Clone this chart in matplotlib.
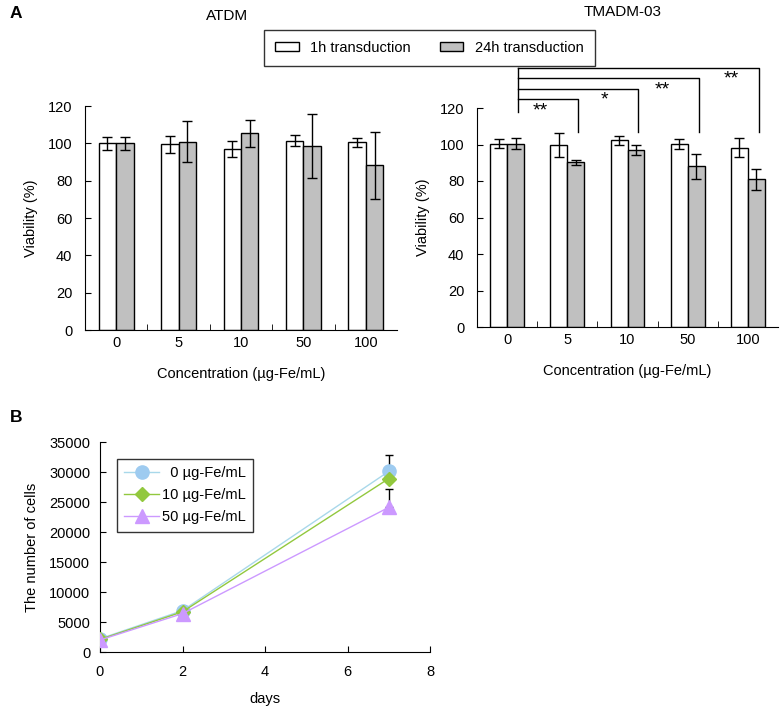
import matplotlib
matplotlib.use("Agg")
import matplotlib.pyplot as plt
import numpy as np
from matplotlib.patches import Patch

plt.rcParams['font.family'] = ['Liberation Sans', 'DejaVu Sans']

# ---- Data ----
concentrations = ["0", "5", "10", "50", "100"]
atdm_1h = [100, 99.5, 97, 101.5, 100.5]
atdm_1h_err = [3.5, 4.5, 4.5, 3, 2.3]
atdm_24h = [100, 100.8, 105.3, 98.5, 88.3]
atdm_24h_err = [3.5, 11, 7, 17, 18]

tmadm_1h = [100.5, 99.8, 102.2, 100.5, 98.3]
tmadm_1h_err = [2.5, 6.7, 2.3, 2.7, 5.3]
tmadm_24h = [100.5, 90.2, 97, 88, 81]
tmadm_24h_err = [3.2, 1.4, 2.5, 7, 5.7]

sig_targets = [1, 2, 3, 4]
sig_labels = ["**", "*", "**", "**"]

days = [0, 2, 7]
cells_0 = [2200, 6900, 30100]
cells_10 = [2100, 6700, 28900]
cells_50 = [2000, 6400, 24100]
err_0 = [0, 0, 2800]
err_50 = [0, 0, 3000]

# ---- Layout constants ----
W, H = 782, 710
fig = plt.figure(figsize=(W / 100, H / 100), dpi=100)

def ax_rect(x0, x1, ytop, ybot):
    return [x0 / W, (H - ybot) / H, (x1 - x0) / W, (ybot - ytop) / H]

bw = 0.28
fs = 10.5
star_x = [0.55, 1.62, 2.57, 3.72]
bracket_levels = [124.7, 130.3, 136.3, 141.8]

def bar_panel(ax, v1, e1, v2, e2):
    x = np.arange(len(concentrations))
    ax.bar(x - bw / 2, v1, bw, color="white", edgecolor="black", linewidth=1.0, zorder=2)
    ax.bar(x + bw / 2, v2, bw, color="#c0c0c0", edgecolor="black", linewidth=1.0, zorder=2)
    ax.errorbar(x - bw / 2, v1, yerr=e1, fmt="none", ecolor="black", elinewidth=1.0,
                capsize=3.6, capthick=1.0, zorder=3)
    ax.errorbar(x + bw / 2, v2, yerr=e2, fmt="none", ecolor="black", elinewidth=1.0,
                capsize=3.6, capthick=1.0, zorder=3)
    ax.set_xlim(-0.5, len(concentrations) - 0.5)
    ax.set_ylim(0, 120)
    ax.set_yticks(np.arange(0, 121, 20))
    ax.set_xticks(x)
    ax.set_xticklabels(concentrations, fontsize=fs)
    ax.set_xticks(np.arange(0.5, len(concentrations) - 0.5, 1), minor=True)
    ax.tick_params(axis="x", which="major", length=0, pad=4.5)
    ax.tick_params(axis="x", which="minor", direction="in", length=4)
    ax.tick_params(axis="y", direction="in", length=4, labelsize=fs, pad=9)
    for s in ["top", "right"]:
        ax.spines[s].set_visible(False)
    ax.set_ylabel("Viability (%)", fontsize=fs, labelpad=7)
    ax.set_xlabel("Concentration (µg-Fe/mL)", fontsize=fs, labelpad=12)

axL = fig.add_axes(ax_rect(85, 397, 106, 330))
bar_panel(axL, atdm_1h, atdm_1h_err, atdm_24h, atdm_24h_err)

axR = fig.add_axes(ax_rect(477, 778, 108, 327))
bar_panel(axR, tmadm_1h, tmadm_1h_err, tmadm_24h, tmadm_24h_err)

# significance brackets
x0b = bw / 2 + 0.035
axR.plot([x0b, x0b], [118, bracket_levels[-1]], color="black", lw=1.0, clip_on=False)
for t, lab, lev, sx in zip(sig_targets, sig_labels, bracket_levels, star_x):
    xr = t + 0.18
    axR.plot([x0b, xr, xr], [lev, lev, 107], color="black", lw=1.0, clip_on=False)
    axR.text(sx, lev - 1.5, lab, ha="center", va="top", fontsize=14, clip_on=False)

# titles / labels
fig.text(227 / W, 1 - 16 / H, "ATDM", ha="center", va="center", fontsize=11)
fig.text(623 / W, 1 - 12 / H, "TMADM-03", ha="center", va="center", fontsize=11)
fig.text(10 / W, 1 - 14 / H, "A", ha="left", va="center", fontsize=12.5, fontweight="bold")
fig.text(10 / W, 1 - 417 / H, "B", ha="left", va="center", fontsize=12.5, fontweight="bold")

handles = [Patch(facecolor="white", edgecolor="black", label="1h transduction"),
           Patch(facecolor="#c0c0c0", edgecolor="black", label="24h transduction")]
leg = fig.legend(handles=handles, loc="center", bbox_to_anchor=(429.5 / W, 1 - 48 / H),
                 ncol=2, frameon=True, fancybox=False, edgecolor="black", fontsize=fs,
                 handlelength=1.6, handleheight=0.6, columnspacing=2.0, borderpad=0.75,
                 handletextpad=0.8)
leg.get_frame().set_linewidth(1.0)

# ---- Panel B ----
axB = fig.add_axes(ax_rect(100, 430, 442, 652))
axB.plot(days, cells_0, color="#a8d8ea", lw=1.0, marker="o", ms=9.5, mfc="#9ecbf0", mec="#9ecbf0",
         label="  0 µg-Fe/mL", zorder=3)
axB.plot(days, cells_10, color="#92c83e", lw=1.0, marker="D", ms=7.5, mfc="#92c83e", mec="#92c83e",
         label="10 µg-Fe/mL", zorder=4)
axB.plot(days, cells_50, color="#cc99ff", lw=1.0, marker="^", ms=10, mfc="#cc99ff", mec="#cc99ff",
         label="50 µg-Fe/mL", zorder=5)
for vals, err in [(cells_0, err_0), (cells_50, err_50)]:
    axB.errorbar(days, vals, yerr=[np.zeros(len(err)), err], fmt="none", ecolor="black",
                 elinewidth=1.0, capsize=3, capthick=1.0, zorder=2)
axB.set_xlim(0, 8)
axB.set_ylim(0, 35000)
axB.set_xticks([0, 2, 4, 6, 8])
axB.set_yticks(np.arange(0, 35001, 5000))
axB.tick_params(axis="x", direction="in", length=4, labelsize=fs, pad=9)
axB.tick_params(axis="y", direction="in", length=4, labelsize=fs, pad=7)
for s in ["top", "right"]:
    axB.spines[s].set_visible(False)
axB.set_ylabel("The number of cells", fontsize=fs, labelpad=7)
axB.set_xlabel("days", fontsize=fs, labelpad=10)
legB = axB.legend(loc="upper left", bbox_to_anchor=(17 / 330, 1 - 17 / 210), frameon=True,
                  fancybox=False, edgecolor="black", fontsize=fs, borderaxespad=0,
                  handlelength=2.4, borderpad=0.5, labelspacing=0.55, handletextpad=0.2)
legB.get_frame().set_linewidth(1.0)

fig.savefig("out.png", dpi=100)
